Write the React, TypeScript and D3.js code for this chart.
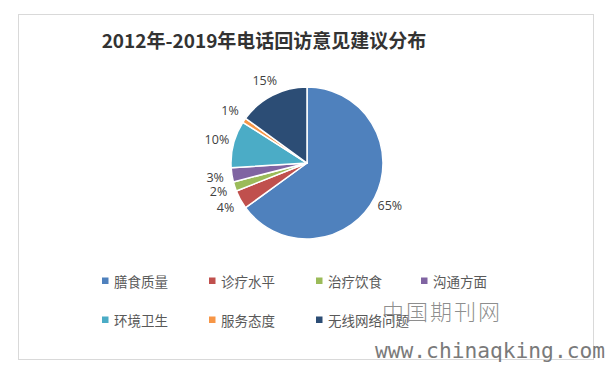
import React from "react";
import * as d3 from "d3";

const categories = ["膳食质量", "诊疗水平", "治疗饮食", "沟通方面", "环境卫生", "服务态度", "无线网络问题"];
const values = [65, 4, 2, 3, 10, 1, 15];
const colors = ["#4F81BD", "#C0504D", "#9BBB59", "#8064A2", "#4BACC6", "#F79646", "#2C4D75"];
const title = "2012年-2019年电话回访意见建议分布";

const W = 606;
const H = 370;
const cx = 307;
const cy = 163;
const R = 76;
const labelR = 93;

export default function App() {
  const pie = d3.pie<number>().sort(null).value((d) => d)(values);
  const arc = d3.arc<d3.PieArcDatum<number>>().innerRadius(0).outerRadius(R);
  const total = d3.sum(values);
  const legendX = d3.scaleOrdinal<number, number>().domain([0, 1, 2, 3]).range([102, 209, 316, 421]);
  const legendY = [281, 320];
  return (
    <svg width={W} height={H} style={{ position: "absolute", left: 0, top: 0 }}>
      <rect x={0} y={0} width={W} height={H} fill="#fff" />
      <rect x={18.5} y={14.5} width={575} height={345} fill="#fff" stroke="#d9d9d9" strokeWidth={1} />
      <text x={264} y={48} textAnchor="middle" fontFamily="'Noto Sans CJK SC', sans-serif" fontWeight="bold" fontSize={19} fill="#333">
        {title}
      </text>
      <g transform={`translate(${cx},${cy})`}>
        {pie.map((p, i) => (
          <path key={i} d={arc(p) || ""} fill={colors[i]} stroke="#fff" strokeWidth={1.5} strokeLinejoin="round" />
        ))}
        {pie.map((p, i) => {
          const a = (p.startAngle + p.endAngle) / 2;
          const x = Math.sin(a) * labelR;
          const y = -Math.cos(a) * labelR;
          return (
            <text key={"l" + i} x={x} y={y} textAnchor="middle" dominantBaseline="central" fontFamily="'Open Sans', sans-serif" fontSize={12.5} fill="#404040">
              {Math.round((values[i] / total) * 100)}%
            </text>
          );
        })}
      </g>
      {categories.map((c, i) => {
        const col = i % 4;
        const row = Math.floor(i / 4);
        const x = legendX(col);
        const y = legendY[row];
        return (
          <g key={"lg" + i}>
            <rect x={x} y={y - 3.5} width={6.5} height={6.5} fill={colors[i]} />
            <text x={x + 12} y={y} dominantBaseline="central" fontFamily="'Noto Sans CJK SC', sans-serif" fontSize={13.5} fill="#595959">
              {c}
            </text>
          </g>
        );
      })}
      <text x={382} y={320} fontFamily="'Noto Sans CJK SC', serif" fontWeight={300} fontSize={22} letterSpacing={2} fill="#7a7a7a" fillOpacity={0.85}>
        中国期刊网
      </text>
      <text x={375} y={358} fontFamily="'DejaVu Sans Mono', monospace" fontSize={21} fill="#7a7a7a" textLength={230} lengthAdjust="spacingAndGlyphs">
        www.chinaqking.com
      </text>
    </svg>
  );
}
